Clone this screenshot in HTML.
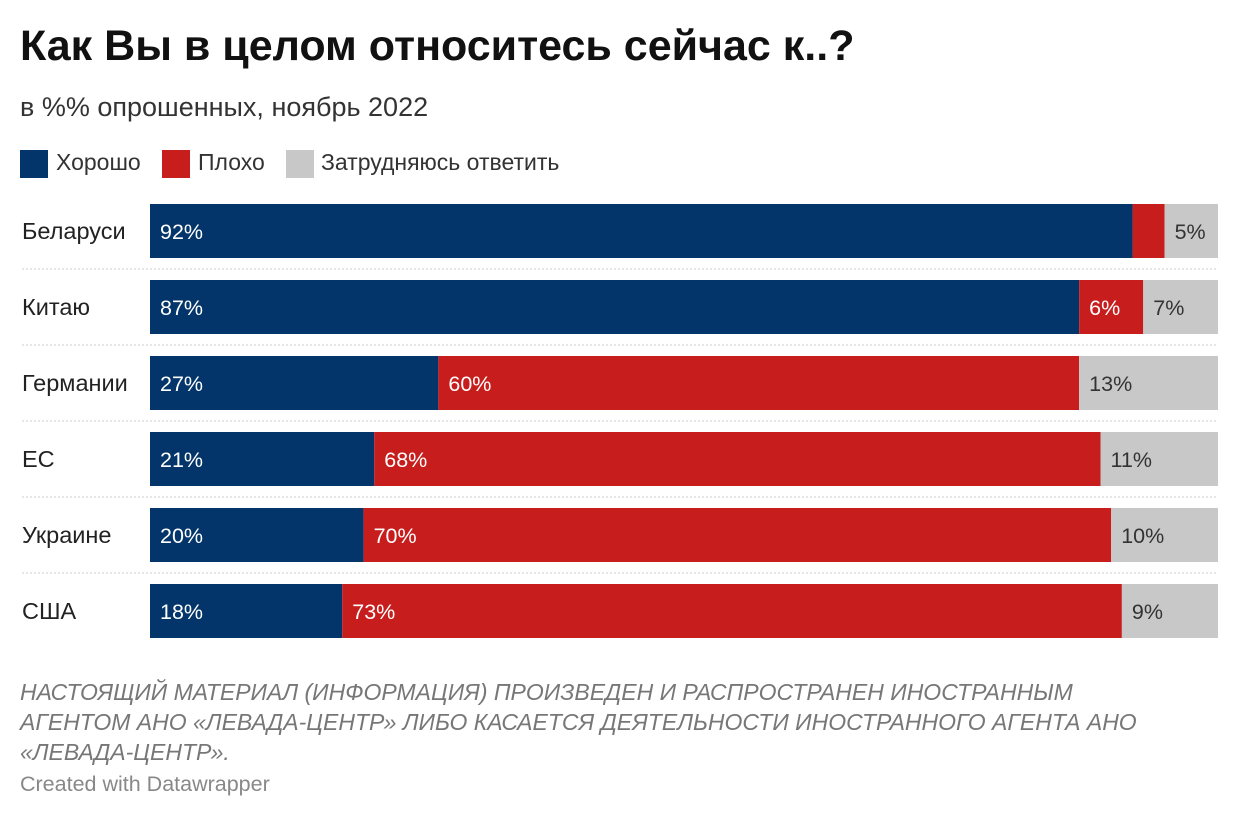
<!DOCTYPE html>
<html><head><meta charset="utf-8">
<style>
body{margin:0;width:1240px;height:820px;background:#fff;font-family:"Liberation Sans",sans-serif;overflow:hidden;position:relative}
.t{position:absolute;white-space:nowrap}
</style></head>
<body>
<div class="t" style="left:20px;top:22px;font-size:43px;font-weight:bold;color:#111">Как Вы в целом относитесь сейчас к..?</div>
<div class="t" style="left:20px;top:92px;font-size:27px;color:#333">в %% опрошенных, ноябрь 2022</div>
<div>
<div class="t" style="left:20px;top:150px;width:28px;height:28px;background:#03356a"></div>
<div class="t" style="left:56px;top:149px;font-size:23px;color:#333">Хорошо</div>
<div class="t" style="left:162px;top:150px;width:28px;height:28px;background:#c71e1d"></div>
<div class="t" style="left:198px;top:149px;font-size:23px;color:#333">Плохо</div>
<div class="t" style="left:286px;top:150px;width:28px;height:28px;background:#c8c8c8"></div>
<div class="t" style="left:321px;top:149px;font-size:23px;color:#333">Затрудняюсь ответить</div>
</div>
<svg id="chart" width="1240" height="820" style="position:absolute;left:0;top:0"></svg>
<div class="t" style="left:20px;top:677px;font-size:23px;line-height:30px;color:#777;font-style:italic">НАСТОЯЩИЙ МАТЕРИАЛ (ИНФОРМАЦИЯ) ПРОИЗВЕДЕН И РАСПРОСТРАНЕН ИНОСТРАННЫМ<br>АГЕНТОМ АНО «ЛЕВАДА-ЦЕНТР» ЛИБО КАСАЕТСЯ ДЕЯТЕЛЬНОСТИ ИНОСТРАННОГО АГЕНТА АНО<br>«ЛЕВАДА-ЦЕНТР».</div>
<div class="t" style="left:20px;top:772px;font-size:21.5px;color:#888">Created with Datawrapper</div>
<script>
const categories=["Беларуси","Китаю","Германии","ЕС","Украине","США"];
const good=[92,87,27,21,20,18];
const bad=[3,6,60,68,70,73];
const unsure=[5,7,13,11,10,9];
const NS="http://www.w3.org/2000/svg";
const svg=document.getElementById("chart");
const x0=150,W=1068,top0=204,step=76,bh=54;
const xs=v=>v/100*W;
function mk(t,a){const e=document.createElementNS(NS,t);for(const k in a)e.setAttribute(k,a[k]);svg.appendChild(e);return e;}
categories.forEach((c,i)=>{
  const y=top0+i*step;
  const lab=mk("text",{x:22,y:y+bh/2+8,"font-size":23.5,fill:"#222"});
  
  
  lab.textContent=c;
  if(i<categories.length-1){
    const ln=mk("line",{x1:22,x2:1218,y1:y+bh+11,y2:y+bh+11,stroke:"#ccc","stroke-dasharray":"2,2"});
    
    
  }
  let x=x0;
  [[good[i],"#03356a","#fff","good"],[bad[i],"#c71e1d","#fff","bad"],[unsure[i],"#c8c8c8","#333","unsure"]].forEach(([v,col,tc,nm])=>{
    const w=xs(v);
    const r=mk("rect",{x:x,y:y,width:w,height:bh,fill:col});
    
    
    if(v>=5){
      const t=mk("text",{x:x+10,y:y+bh/2+8,"font-size":21.5,fill:tc});
      
      
      t.textContent=v+"%";
    }
    x+=w;
  });
});
</script>
</body></html>
